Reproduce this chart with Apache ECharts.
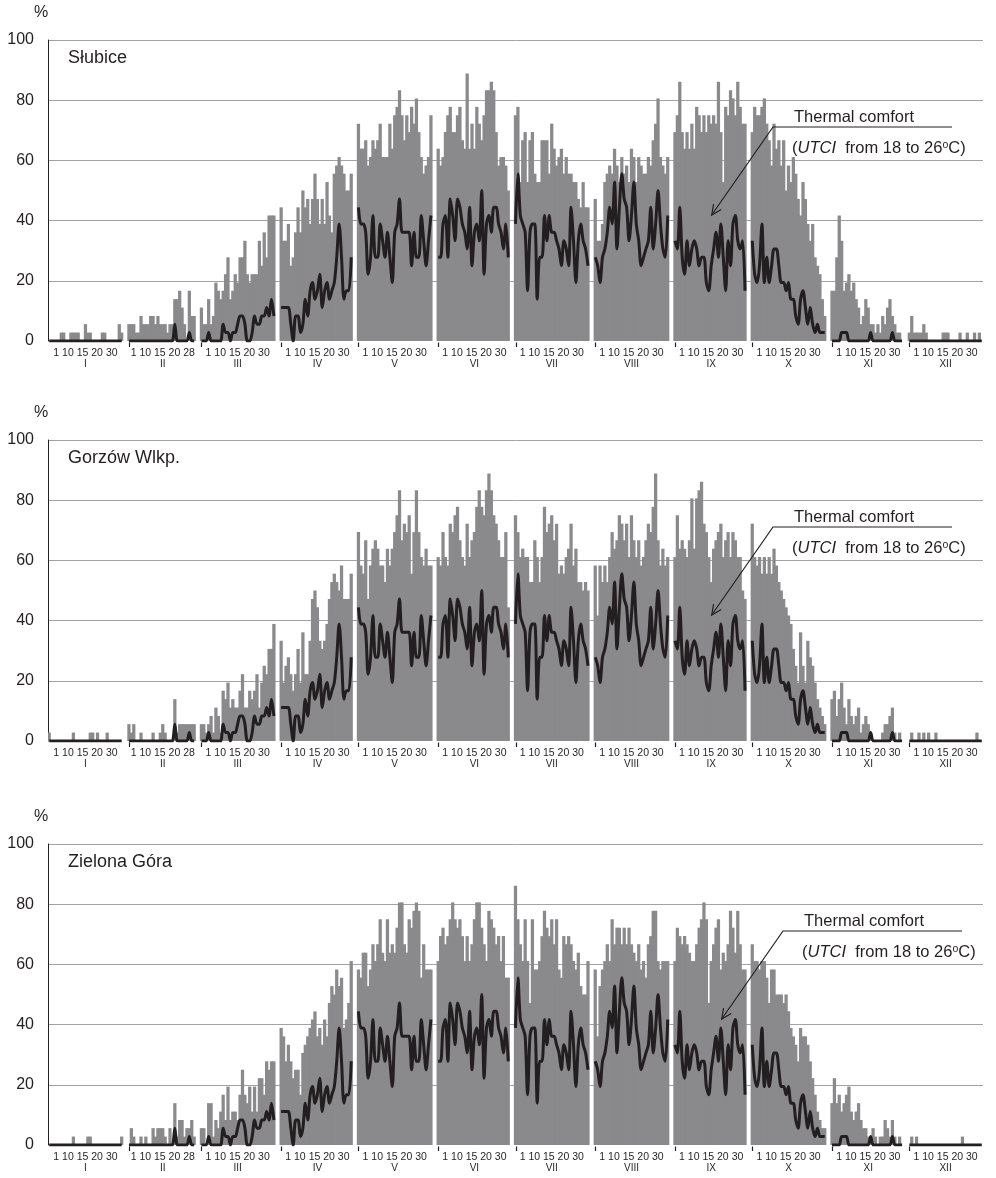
<!DOCTYPE html>
<html>
<head>
<meta charset="utf-8">
<script src="https://cdn.jsdelivr.net/npm/echarts@6/dist/echarts.min.js"></script>
<style>
html, body { margin: 0; padding: 0; background: #ffffff; }
#chart { width: 996px; height: 1178px; }
</style>
</head>
<body>
<div id="chart"></div>
<script>
// Month names and the day markers printed under each month
const MONTHS = ['I', 'II', 'III', 'IV', 'V', 'VI', 'VII', 'VIII', 'IX', 'X', 'XI', 'XII'];
const DAY_TICKS = ['1 10 15 20 30', '1 10 15 20 28', '1 10 15 20 30', '1 10 15 20 30',
  '1 10 15 20 30', '1 10 15 20 30', '1 10 15 20 30', '1 10 15 20 30',
  '1 10 15 20 30', '1 10 15 20 30', '1 10 15 20 30', '1 10 15 20 30'];
const STATIONS = ['Słubice', 'Gorzów Wlkp.', 'Zielona Góra'];

// Daily frequency (%) of favourable days, one inner array per month
const slubice = [
  [0,0,0,0,0,2.8,2.8,0,0,2.8,2.8,2.8,2.8,0,0,5.6,2.8,2.8,0,0,0,0,2.8,2.8,0,0,0,0,0,5.6,2.8],
  [5.6,5.6,5.6,2.8,2.8,8.3,5.6,5.6,5.6,8.3,8.3,5.6,8.3,5.6,5.6,5.6,2.8,5.6,5.6,13.9,13.9,16.7,11.1,5.6,0,16.7,8.3,8.3],
  [11.1,5.6,5.6,13.9,5.6,8.3,19.4,16.7,13.9,16.7,22.2,27.8,13.9,16.7,22.2,19.4,27.8,27.8,33.3,22.2,19.4,22.2,22.2,22.2,33.3,25,36.1,27.8,41.7,41.7,41.7],
  [44.4,33.3,33.3,38.9,25,27.8,36.1,44.4,36.1,50,44.4,47.2,38.9,47.2,55.6,47.2,38.9,47.2,38.9,52.8,41.7,36.1,55.6,58.3,61.1,58.3,55.6,50,50,55.6],
  [72.2,63.9,63.9,66.7,58.3,61.1,66.7,63.9,66.7,72.2,61.1,61.1,61.1,72.2,63.9,75,77.8,83.3,75,66.7,75,69.4,77.8,72.2,80.6,69.4,61.1,55.6,58.3,61.1,75],
  [63.9,58.3,61.1,69.4,75,77.8,69.4,69.4,75,77.8,66.7,63.9,88.9,63.9,72.2,63.9,77.8,72.2,66.7,75,83.3,83.3,86.1,83.3,69.4,58.3,61.1,61.1,58.3,50],
  [75,77.8,52.8,66.7,69.4,52.8,66.7,69.4,55.6,52.8,52.8,66.7,66.7,66.7,55.6,72.2,63.9,58.3,61.1,63.9,55.6,61.1,55.6,55.6,52.8,52.8,47.2,44.4,52.8,44.4,44.4],
  [47.2,33.3,33.3,38.9,52.8,55.6,58.3,55.6,63.9,58.3,52.8,61.1,55.6,58.3,52.8,63.9,61.1,52.8,61.1,58.3,55.6,55.6,61.1,58.3,66.7,72.2,80.6,61.1,58.3,55.6,61.1],
  [69.4,75,86.1,69.4,63.9,69.4,63.9,72.2,63.9,77.8,75,69.4,75,69.4,75,72.2,75,72.2,86.1,69.4,52.8,77.8,75,83.3,80.6,75,86.1,77.8,72.2,72.2],
  [69.4,77.8,75,75,77.8,80.6,72.2,66.7,58.3,72.2,63.9,66.7,58.3,66.7,50,58.3,52.8,61.1,55.6,47.2,41.7,52.8,47.2,38.9,33.3,38.9,27.8,25,22.2,13.9,8.3],
  [16.7,16.7,27.8,41.7,33.3,16.7,19.4,22.2,16.7,19.4,13.9,11.1,5.6,8.3,13.9,11.1,5.6,5.6,2.8,5.6,2.8,8.3,5.6,11.1,13.9,8.3,5.6,2.8,2.8,0],
  [2.8,8.3,2.8,2.8,2.8,2.8,5.6,2.8,0,0,0,0,0,0,2.8,2.8,2.8,0,0,0,0,2.8,0,0,2.8,0,0,2.8,0,2.8,0]
];

const gorzow = [
  [2.8,0,0,0,0,0,0,0,0,0,2.8,0,0,0,0,0,0,2.8,2.8,0,2.8,0,0,0,2.8,0,0,0,0,0,0],
  [5.6,2.8,5.6,0,0,2.8,0,0,0,0,2.8,0,0,2.8,5.6,2.8,0,0,0,13.9,2.8,5.6,5.6,5.6,5.6,5.6,5.6,5.6],
  [5.6,5.6,2.8,5.6,8.3,2.8,11.1,8.3,2.8,16.7,13.9,19.4,11.1,13.9,11.1,11.1,16.7,22.2,11.1,11.1,16.7,13.9,16.7,22.2,11.1,19.4,25,22.2,30.6,30.6,38.9],
  [33.3,19.4,25,27.8,22.2,16.7,22.2,30.6,19.4,36.1,22.2,22.2,33.3,47.2,50,44.4,33.3,30.6,33.3,38.9,47.2,52.8,55.6,52.8,50,58.3,47.2,47.2,47.2,55.6],
  [69.4,58.3,55.6,66.7,47.2,58.3,63.9,66.7,63.9,58.3,58.3,52.8,63.9,58.3,63.9,69.4,75,83.3,66.7,72.2,69.4,75,55.6,69.4,83.3,69.4,61.1,58.3,63.9,58.3,58.3],
  [61.1,58.3,69.4,61.1,58.3,72.2,69.4,75,77.8,66.7,61.1,58.3,72.2,61.1,66.7,69.4,77.8,83.3,77.8,75,83.3,88.9,83.3,75,72.2,66.7,61.1,61.1,69.4,44.4],
  [75,69.4,61.1,63.9,61.1,61.1,52.8,52.8,66.7,61.1,52.8,61.1,77.8,69.4,72.2,75,66.7,72.2,55.6,58.3,55.6,61.1,63.9,72.2,58.3,63.9,52.8,52.8,50,52.8,50],
  [58.3,41.7,58.3,52.8,58.3,52.8,61.1,69.4,63.9,66.7,75,72.2,66.7,72.2,61.1,75,66.7,61.1,66.7,58.3,61.1,66.7,72.2,69.4,77.8,88.9,66.7,58.3,63.9,58.3,61.1],
  [61.1,75,63.9,66.7,63.9,61.1,66.7,80.6,63.9,80.6,83.3,86.1,72.2,69.4,61.1,52.8,63.9,66.7,69.4,72.2,61.1,66.7,69.4,61.1,69.4,66.7,61.1,61.1,50,47.2],
  [72.2,61.1,58.3,61.1,55.6,61.1,55.6,61.1,55.6,63.9,58.3,52.8,50,47.2,44.4,41.7,38.9,30.6,25,19.4,36.1,25,19.4,33.3,27.8,25,19.4,13.9,11.1,8.3,5.6],
  [13.9,16.7,8.3,13.9,19.4,11.1,5.6,13.9,8.3,5.6,8.3,11.1,2.8,5.6,8.3,5.6,2.8,0,0,0,0,2.8,5.6,5.6,8.3,11.1,2.8,0,2.8,0],
  [0,2.8,0,0,2.8,0,2.8,0,2.8,0,0,2.8,0,0,0,0,0,0,0,0,0,0,0,0,0,0,0,0,2.8,0,0]
];

const zielonaGora = [
  [0,0,0,0,0,0,0,0,0,0,2.8,0,0,0,0,0,2.8,2.8,0,0,0,0,0,0,0,0,0,0,0,0,2.8],
  [0,5.6,2.8,0,0,2.8,0,2.8,0,0,5.6,2.8,5.6,5.6,5.6,2.8,0,5.6,0,13.9,2.8,8.3,8.3,2.8,5.6,5.6,8.3,2.8],
  [5.6,5.6,0,13.9,13.9,2.8,8.3,5.6,11.1,16.7,8.3,19.4,8.3,11.1,11.1,8.3,16.7,25,16.7,13.9,19.4,11.1,19.4,11.1,22.2,22.2,16.7,27.8,25,27.8,27.8],
  [38.9,36.1,27.8,33.3,27.8,22.2,25,25,16.7,30.6,33.3,36.1,38.9,41.7,44.4,36.1,38.9,33.3,41.7,36.1,47.2,52.8,50,58.3,52.8,55.6,38.9,41.7,47.2,61.1],
  [58.3,55.6,63.9,63.9,52.8,58.3,66.7,61.1,66.7,75,63.9,61.1,75,63.9,66.7,63.9,72.2,80.6,80.6,66.7,63.9,75,72.2,77.8,80.6,77.8,55.6,66.7,58.3,58.3,58.3],
  [61.1,69.4,72.2,66.7,69.4,75,80.6,75,72.2,75,69.4,61.1,69.4,61.1,66.7,75,80.6,80.6,72.2,66.7,61.1,77.8,75,72.2,66.7,69.4,61.1,69.4,55.6,55.6],
  [86.1,75,66.7,61.1,75,61.1,47.2,75,58.3,58.3,61.1,69.4,77.8,72.2,69.4,75,66.7,75,58.3,55.6,69.4,66.7,69.4,66.7,61.1,58.3,63.9,52.8,50,50,61.1],
  [58.3,36.1,52.8,58.3,61.1,66.7,61.1,75,66.7,72.2,72.2,66.7,72.2,66.7,72.2,66.7,63.9,61.1,66.7,58.3,61.1,55.6,66.7,69.4,77.8,77.8,61.1,58.3,61.1,61.1,61.1],
  [61.1,72.2,69.4,66.7,69.4,66.7,63.9,61.1,61.1,66.7,72.2,75,80.6,75,47.2,61.1,66.7,72.2,75,58.3,63.9,61.1,66.7,77.8,72.2,63.9,77.8,66.7,58.3,58.3],
  [66.7,61.1,61.1,58.3,61.1,61.1,55.6,47.2,58.3,58.3,50,50,50,47.2,50,44.4,38.9,36.1,33.3,27.8,38.9,36.1,36.1,33.3,27.8,22.2,16.7,11.1,8.3,5.6,5.6],
  [13.9,22.2,13.9,16.7,11.1,13.9,16.7,19.4,11.1,8.3,11.1,13.9,8.3,5.6,5.6,2.8,2.8,5.6,2.8,0,2.8,2.8,8.3,5.6,2.8,8.3,2.8,0,2.8,0],
  [0,2.8,0,2.8,0,0,0,0,0,0,0,0,0,0,0,0,0,0,0,0,0,0,2.8,0,0,0,0,0,0,0,0]
];

// Thermal comfort (UTCI 18-26 °C) frequency (%), one inner array per month
const thermalComfort = [
  [0,0,0,0,0,0,0,0,0,0,0,0,0,0,0,0,0,0,0,0,0,0,0,0,0,0,0,0,0,0,0],
  [0,0,0,0,0,0,0,0,0,0,0,0,0,0,0,0,0,0,0,5.6,0,0,0,0,0,2.8,0,0],
  [0,0,0,2.8,0,0,0,0,0,5.6,2.8,2.8,0,2.8,2.8,5.6,8.3,8.3,5.6,0,0,2.8,8.3,5.6,5.6,8.3,8.3,11.1,8.3,13.9,8.3],
  [11.1,11.1,11.1,11.1,5.6,0,8.3,8.3,2.8,5.6,13.9,8.3,16.7,19.4,13.9,16.7,22.2,11.1,16.7,19.4,13.9,16.7,19.4,27.8,38.9,27.8,13.9,16.7,16.7,27.8],
  [44.4,38.9,38.9,36.1,22.2,27.8,41.7,27.8,27.8,38.9,33.3,27.8,36.1,27.8,19.4,36.1,38.9,47.2,36.1,36.1,36.1,36.1,25,36.1,27.8,27.8,41.7,33.3,25,33.3,41.7],
  [27.8,27.8,38.9,41.7,27.8,47.2,41.7,33.3,47.2,44.4,38.9,36.1,30.6,44.4,25,36.1,38.9,33.3,50,22.2,38.9,41.7,36.1,44.4,44.4,38.9,36.1,30.6,38.9,27.8],
  [38.9,55.6,41.7,38.9,36.1,16.7,36.1,38.9,38.9,13.9,27.8,27.8,41.7,33.3,41.7,36.1,36.1,33.3,30.6,25,33.3,30.6,25,44.4,33.3,19.4,33.3,38.9,33.3,30.6,25],
  [27.8,25,19.4,27.8,30.6,36.1,44.4,38.9,52.8,30.6,44.4,55.6,47.2,44.4,33.3,41.7,52.8,38.9,33.3,25,27.8,30.6,33.3,44.4,30.6,38.9,50,38.9,30.6,27.8,41.7],
  [33.3,30.6,44.4,27.8,22.2,33.3,25,30.6,33.3,30.6,25,27.8,27.8,19.4,16.7,25,30.6,36.1,27.8,38.9,27.8,16.7,33.3,25,38.9,41.7,33.3,30.6,33.3,16.7],
  [33.3,22.2,19.4,25,38.9,19.4,27.8,19.4,25,30.6,30.6,25,19.4,19.4,16.7,19.4,13.9,13.9,8.3,5.6,13.9,16.7,11.1,5.6,11.1,5.6,2.8,5.6,2.8,2.8,2.8],
  [0,0,0,0,2.8,2.8,2.8,0,0,0,0,0,0,0,0,0,2.8,0,0,0,0,0,0,0,0,2.8,0,0,0,0],
  [0,0,0,0,0,0,0,0,0,0,0,0,0,0,0,0,0,0,0,0,0,0,0,0,0,0,0,0,0,0,0]
];

// ---- layout & style ----
const FONT = "'Liberation Sans', Arial, sans-serif";
const INK = '#231f20';
const BAR = '#8a8a8c';
const GRIDLINE = '#a3a3a3';
const PANEL_TOP = [40, 440, 844];
const PLOT_H = 301;
const PLOT_LEFT = 48;
const PLOT_RIGHT = 13;
const CALLOUT_X = [773, 773, 783];
const GAP_SLOTS = 2; // blank slots separating months

// Category axis: one slot per day, blank slots between months
const categories = [];
const monthStart = [];
const midIndex = {};
thermalComfort.forEach((month, mi) => {
  monthStart.push(categories.length);
  midIndex[categories.length + Math.floor(month.length / 2)] = mi;
  month.forEach((_, d) => categories.push(MONTHS[mi] + '-' + (d + 1)));
  if (mi < MONTHS.length - 1) {
    for (let g = 0; g < GAP_SLOTS; g++) categories.push('gap-' + mi + '-' + g);
  }
});

function withGaps(months) {
  const out = [];
  months.forEach((month, mi) => {
    month.forEach(v => out.push(v));
    if (mi < months.length - 1) {
      for (let g = 0; g < GAP_SLOTS; g++) out.push(null);
    }
  });
  return out;
}

const stationData = [slubice, gorzow, zielonaGora];
const comfortSeries = withGaps(thermalComfort);

const grids = [], xAxes = [], yAxes = [], series = [], graphics = [];

PANEL_TOP.forEach((top, i) => {
  grids.push({
    left: PLOT_LEFT, right: PLOT_RIGHT, top: top, height: PLOT_H,
    containLabel: false, outerBoundsMode: 'none'
  });
  xAxes.push({
    type: 'category', gridIndex: i, data: categories, boundaryGap: true,
    axisLine: { show: false },
    axisTick: { show: false },
    axisLabel: {
      show: true, margin: 7, color: INK, fontFamily: FONT,
      interval: idx => midIndex[idx] !== undefined,
      formatter: (value, idx) => {
        const m = midIndex[idx];
        return '{d|' + DAY_TICKS[m] + '}\n{m|' + MONTHS[m] + '}';
      },
      rich: {
        d: { fontSize: 10.5, lineHeight: 11, fontFamily: FONT, color: INK },
        m: { fontSize: 10, lineHeight: 11, fontFamily: FONT, color: INK }
      }
    },
    splitLine: { show: false }
  });
  yAxes.push({
    type: 'value', gridIndex: i, min: 0, max: 100, interval: 20,
    axisLine: { show: true, lineStyle: { color: INK, width: 1 } },
    axisTick: { show: false },
    axisLabel: { fontSize: 16, color: INK, fontFamily: FONT, margin: 14 },
    splitLine: { show: true, showMinLine: false, lineStyle: { color: GRIDLINE, width: 1 } }
  });
  // daily bars are slightly wider than their slot so neighbours merge into one block
  series.push({
    type: 'bar', xAxisIndex: i, yAxisIndex: i,
    data: withGaps(stationData[i]),
    barWidth: '135%',
    itemStyle: { color: BAR, borderWidth: 0 },
    silent: true, z: 2
  });
  series.push({
    type: 'line', xAxisIndex: i, yAxisIndex: i,
    data: comfortSeries,
    smooth: 0.3, showSymbol: false, connectNulls: false,
    lineStyle: { color: INK, width: 3, join: 'round' },
    silent: true, z: 3
  });

  // axis unit and station name
  graphics.push({
    type: 'text', x: 41, y: top - 27, z: 100,
    style: { text: '%', fill: INK, fontSize: 16, fontFamily: FONT,
      align: 'center', verticalAlign: 'middle' }
  });
  graphics.push({
    type: 'text', x: 68, y: top + 18, z: 100,
    style: { text: STATIONS[i], fill: INK, fontSize: 18, fontFamily: FONT,
      align: 'left', verticalAlign: 'middle' }
  });

  // "Thermal comfort" callout with leader and open arrowhead
  const ex = CALLOUT_X[i];
  const ey = top + 87;
  const tip = [ex - 61.3, top + 175];
  const dx = ex - tip[0], dy = ey - tip[1];
  const len = Math.sqrt(dx * dx + dy * dy);
  const bx = dx / len, by = dy / len;
  const ang = 25 * Math.PI / 180, wing = 11;
  const w1 = [tip[0] + wing * (bx * Math.cos(ang) - by * Math.sin(ang)),
              tip[1] + wing * (bx * Math.sin(ang) + by * Math.cos(ang))];
  const w2 = [tip[0] + wing * (bx * Math.cos(-ang) - by * Math.sin(-ang)),
              tip[1] + wing * (bx * Math.sin(-ang) + by * Math.cos(-ang))];
  graphics.push({
    type: 'polyline', z: 100,
    shape: { points: [[ex + 179, ey], [ex, ey], tip] },
    style: { stroke: INK, lineWidth: 1.2, fill: null }
  });
  graphics.push({
    type: 'polyline', z: 100,
    shape: { points: [w1, tip, w2] },
    style: { stroke: INK, lineWidth: 1.2, fill: null }
  });
  graphics.push({
    type: 'text', x: ex + 21, y: top + 77, z: 100,
    style: { text: 'Thermal comfort', fill: INK, fontSize: 16.5, fontFamily: FONT,
      align: 'left', verticalAlign: 'middle' }
  });
  graphics.push({
    type: 'text', x: ex + 19, y: top + 108, z: 100,
    style: {
      text: '({it|UTCI}  from 18 to 26{sup|o}C)',
      fill: INK, fontSize: 16.5, fontFamily: FONT,
      align: 'left', verticalAlign: 'middle',
      rich: {
        it: { fontStyle: 'italic', fontSize: 16.5, fontFamily: FONT, fill: INK },
        sup: { fontSize: 10.5, fontFamily: FONT, fill: INK, verticalAlign: 'top' }
      }
    }
  });
});

const chart = echarts.init(document.getElementById('chart'), null, { renderer: 'canvas' });
chart.setOption({
  animation: false,
  backgroundColor: '#ffffff',
  textStyle: { fontFamily: FONT },
  grid: grids,
  xAxis: xAxes,
  yAxis: yAxes,
  series: series,
  graphic: { elements: graphics }
});

// Short marks under the first day of each month (February onwards),
// placed through the category axis of each panel
const monthMarks = [];
PANEL_TOP.forEach((top, i) => {
  const base = top + PLOT_H;
  monthStart.slice(1).forEach(idx => {
    const x = Math.round(chart.convertToPixel({ xAxisIndex: i }, categories[idx])) + 0.5;
    monthMarks.push({
      type: 'line', z: 100,
      shape: { x1: x, y1: base + 1.5, x2: x, y2: base + 6 },
      style: { stroke: INK, lineWidth: 1.2 }
    });
  });
});
chart.setOption({ graphic: { elements: graphics.concat(monthMarks) } });
</script>
</body>
</html>
